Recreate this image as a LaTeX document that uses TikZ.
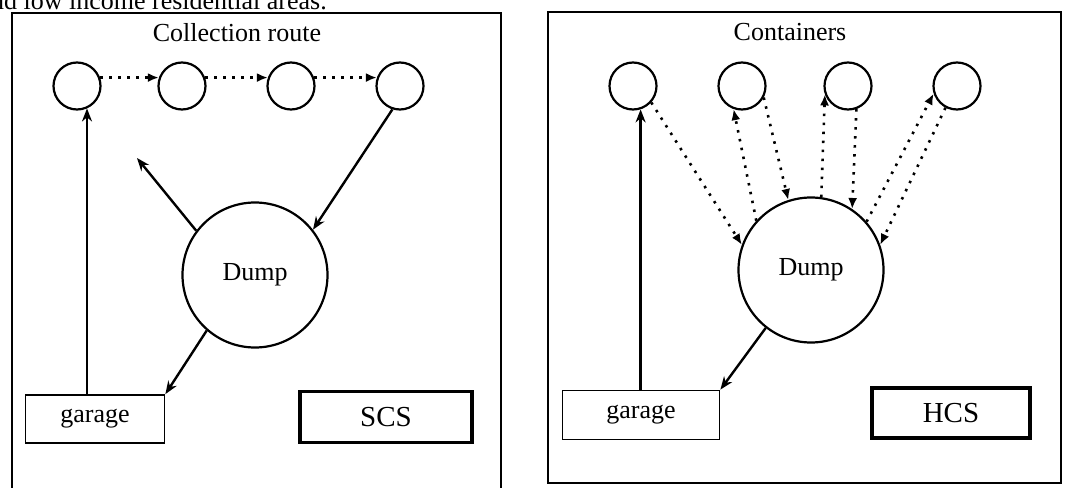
\documentclass[tikz,border=0pt]{standalone}
\usepackage{fontspec}
\setmainfont{Liberation Serif}
\usetikzlibrary{arrows.meta, positioning}

\begin{document}
\begin{tikzpicture}[x=1pt, y=-1pt, >={Stealth[length=13pt, width=10pt]}]
		\tikzstyle{panel} = [line width=2pt]
		\tikzstyle{round} = [line width=2.2pt, draw=black, circle, inner sep=0pt, minimum size=47pt]
		\tikzstyle{dump} = [line width=2.2pt, draw=black, circle, inner sep=0pt, minimum size=145pt, font=\fontsize{26}{30}\selectfont]
		\tikzstyle{box} = [line width=1.8pt, draw=black, rectangle, inner sep=0pt, font=\fontsize{26}{30}\selectfont]
		\tikzstyle{tag} = [line width=3.6pt, draw=black, rectangle, inner sep=0pt, font=\fontsize{29}{33}\selectfont]
		\tikzstyle{invis} = [draw=none, inner sep=0pt, font=\fontsize{26}{30}\selectfont]
		\tikzstyle{arrow} = [line width=2.4pt, ->]
		\tikzstyle{dots} = [line width=2.6pt, dash pattern=on 2.5pt off 6.5pt, -{Latex[length=11pt, width=9pt]}]
		
		\useasboundingbox (0, 0) rectangle (1067, 487);
		\node[invis, anchor=base east] at (327, 10) (head) {nd low income residential areas.};
		
		% SCS
		\draw[panel] (12, 13) rectangle (501, 490);
		\node[invis]	at (237, 33)	(title1)	{Collection route};
		\node[round] 	at (77, 86) 	(c1) 	{};
		\node[round] 	at (182, 86)	(c2) 	{};
		\node[round] 	at (291, 86)	(c3) 	{};
		\node[round] 	at (400, 86)	(c4) 	{};
		\node[dump] 	at (255, 275)	(dump1) 	{Dump};
		\node[box, minimum width=139pt, minimum height=48pt]	at (95, 419)	(gar1)	{garage};
		\node[tag, minimum width=172pt, minimum height=51pt]	at (386, 417)	(scs)	{SCS};
		\coordinate (free) at (137, 158);
		
		\path[dots]
			(c1.20)	edge	(c2.160)
			(c2.20)	edge	(c3.160)
			(c3.20)	edge	(c4.160);
		\path[arrow]
			(c4.252)	edge	(dump1.38)
			(dump1.143)	edge	(free)
			(dump1.229)	edge	(gar1.north east)
			(gar1.north west -| c1.294)	edge	(c1.294);
		
		% HCS
		\draw[panel] (548, 12) rectangle (1061, 483);
		\node[invis]	at (790, 32)	(title2)	{Containers};
		\node[round] 	at (633, 86) 	(c5) 	{};
		\node[round] 	at (742, 86)	(c6) 	{};
		\node[round] 	at (848, 86)	(c7) 	{};
		\node[round] 	at (957, 86)	(c8) 	{};
		\node[dump] 	at (811, 270)	(dump2) 	{Dump};
		\node[box, minimum width=157pt, minimum height=49pt]	at (641, 415)	(gar2)	{garage};
		\node[tag, minimum width=158pt, minimum height=50pt]	at (951, 413)	(hcs)	{HCS};
		
		\path[dots]
			(c5.318)	edge	(dump2.160)
			(dump2.138)	edge	(c6.250)
			(c6.332)	edge	(dump2.108)
			(dump2.82)	edge	(c7.200)
			(c7.290)	edge	(dump2.56)
			(dump2.41)	edge	(c8.198)
			(c8.242)	edge	(dump2.20);
		\path[arrow]
			(dump2.232)	edge	(gar2.north east)
			(gar2.north west -| c5.288)	edge	(c5.288);
	\end{tikzpicture}
\end{document}
